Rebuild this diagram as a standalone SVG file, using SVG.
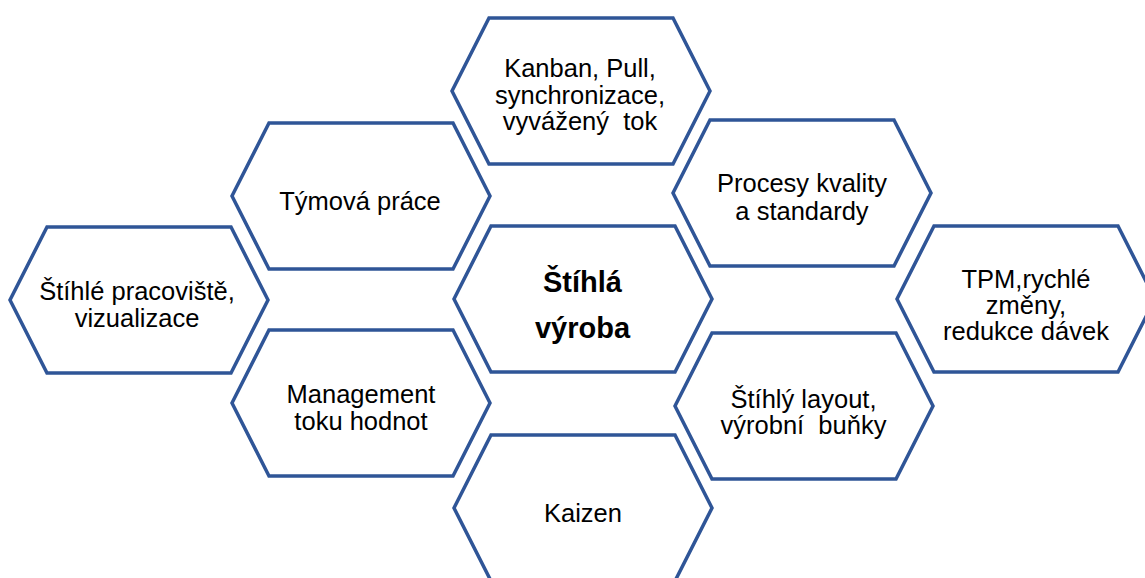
<svg xmlns="http://www.w3.org/2000/svg" xmlns:xlink="http://www.w3.org/1999/xlink" width="1145" height="578" viewBox="0 0 1145 578">
  <style>
    .hex { fill: #ffffff; stroke: #2F5597; stroke-width: 3.5; stroke-linejoin: miter; }
    .lbl { font-family: "Liberation Sans", Arial, sans-serif; font-size: 25.5px; fill: #000000; text-anchor: middle; }
    .core { font-family: "Liberation Sans", Arial, sans-serif; font-size: 29px; font-weight: bold; fill: #000000; text-anchor: middle; }
  </style>
  <defs>
    <!-- flat-topped hexagon, 258 x 146 -->
    <path id="hex" class="hex" d="M37,0 H221 L258,73 L221,146 H37 L0,73 Z"/>
  </defs>

  <rect width="1145" height="578" fill="#ffffff"/>

  <!-- no connectors: the cells simply sit side by side -->
  <g id="connectors"></g>

  <g id="node-kanban" transform="translate(452,18)">
    <use xlink:href="#hex"/>
    <text class="lbl" x="128" y="59">Kanban, Pull,</text>
    <text class="lbl" x="128" y="85.5">synchronizace,</text>
    <text class="lbl" x="128" y="112">vyvážený&#160; tok</text>
  </g>

  <g id="node-tymova" transform="translate(232,123)">
    <use xlink:href="#hex"/>
    <text class="lbl" x="128" y="87">Týmová práce</text>
  </g>

  <g id="node-procesy" transform="translate(673,120)">
    <use xlink:href="#hex"/>
    <text class="lbl" x="129" y="72">Procesy kvality</text>
    <text class="lbl" x="129" y="99.5">a standardy</text>
  </g>

  <g id="node-pracoviste" transform="translate(10,227)">
    <use xlink:href="#hex"/>
    <text class="lbl" x="127" y="72.5">Štíhlé pracoviště,</text>
    <text class="lbl" x="127" y="100">vizualizace</text>
  </g>

  <g id="node-center" transform="translate(454,226)">
    <use xlink:href="#hex"/>
    <text class="core" x="128.5" y="66">Štíhlá</text>
    <text class="core" x="128.5" y="111.5">výroba</text>
  </g>

  <g id="node-tpm" transform="translate(897,226)">
    <use xlink:href="#hex"/>
    <text class="lbl" x="129" y="61.5">TPM,rychlé</text>
    <text class="lbl" x="129" y="87.5">změny,</text>
    <text class="lbl" x="129" y="114">redukce dávek</text>
  </g>

  <g id="node-management" transform="translate(232,330)">
    <use xlink:href="#hex"/>
    <text class="lbl" x="129" y="72.5">Management</text>
    <text class="lbl" x="129" y="100">toku hodnot</text>
  </g>

  <g id="node-layout" transform="translate(675,333)">
    <use xlink:href="#hex"/>
    <text class="lbl" x="128.5" y="74.5">Štíhlý layout,</text>
    <text class="lbl" x="128.5" y="100.5">výrobní&#160; buňky</text>
  </g>

  <g id="node-kaizen" transform="translate(454,435)">
    <use xlink:href="#hex"/>
    <text class="lbl" x="129" y="87">Kaizen</text>
  </g>
</svg>
